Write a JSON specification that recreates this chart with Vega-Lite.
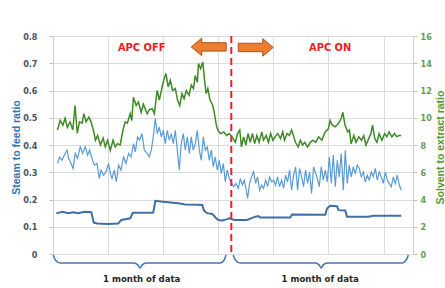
{
"$schema": "https://vega.github.io/schema/vega-lite/v6.json",
"width": 360, "height": 218,
"autosize": {"type": "none"},
"padding": {"left": 53, "top": 36, "right": 32, "bottom": 34},
"background": "white",
"config": {"view": {"stroke": null}, "font": "Liberation Sans Narrow, DejaVu Sans Condensed, Roboto"},
"datasets": {
"light": [
{"d":0.83,"v":0.332},{"d":1.2,"v":0.356},{"d":1.63,"v":0.344},{"d":2.05,"v":0.363},{"d":2.54,"v":0.381},{"d":2.83,"v":0.351},{"d":3.27,"v":0.332},{"d":3.63,"v":0.314},{"d":4.05,"v":0.369},{"d":4.46,"v":0.351},{"d":4.95,"v":0.393},{"d":5.37,"v":0.369},{"d":5.86,"v":0.393},{"d":6.28,"v":0.363},{"d":6.64,"v":0.381},{"d":7.08,"v":0.351},{"d":7.5,"v":0.326},{"d":7.99,"v":0.332},{"d":8.4,"v":0.277},{"d":8.71,"v":0.308},{"d":9.18,"v":0.289},{"d":9.62,"v":0.302},{"d":10.09,"v":0.332},{"d":10.4,"v":0.296},{"d":10.71,"v":0.277},{"d":11.13,"v":0.308},{"d":11.49,"v":0.265},{"d":11.91,"v":0.326},{"d":12.34,"v":0.308},{"d":12.81,"v":0.356},{"d":13.25,"v":0.332},{"d":13.72,"v":0.369},{"d":14.16,"v":0.356},{"d":14.63,"v":0.405},{"d":14.94,"v":0.375},{"d":15.35,"v":0.43},{"d":15.72,"v":0.418},{"d":16.15,"v":0.442},{"d":16.57,"v":0.381},{"d":17.06,"v":0.37},{"d":17.48,"v":0.356},{"d":17.84,"v":0.381},{"d":18.2,"v":0.43},{"d":18.57,"v":0.497},{"d":18.93,"v":0.442},{"d":19.29,"v":0.466},{"d":19.66,"v":0.43},{"d":20.02,"v":0.454},{"d":20.38,"v":0.405},{"d":20.74,"v":0.454},{"d":21.11,"v":0.418},{"d":21.47,"v":0.442},{"d":21.83,"v":0.405},{"d":22.2,"v":0.454},{"d":22.56,"v":0.381},{"d":22.92,"v":0.308},{"d":23.28,"v":0.405},{"d":23.65,"v":0.442},{"d":24.01,"v":0.381},{"d":24.37,"v":0.43},{"d":24.74,"v":0.369},{"d":25.1,"v":0.43},{"d":25.46,"v":0.381},{"d":25.83,"v":0.405},{"d":26.19,"v":0.454},{"d":26.55,"v":0.381},{"d":26.91,"v":0.344},{"d":27.28,"v":0.43},{"d":27.64,"v":0.381},{"d":28.0,"v":0.393},{"d":28.37,"v":0.344},{"d":28.73,"v":0.381},{"d":29.09,"v":0.32},{"d":29.45,"v":0.356},{"d":29.82,"v":0.308},{"d":30.18,"v":0.344},{"d":30.54,"v":0.296},{"d":30.91,"v":0.332},{"d":31.27,"v":0.265},{"d":31.63,"v":0.308},{"d":32.0,"v":0.277},
{"d":32.78,"v":0.247},{"d":33.21,"v":0.259},{"d":33.63,"v":0.241},{"d":33.99,"v":0.277},{"d":34.36,"v":0.253},{"d":34.72,"v":0.271},{"d":35.08,"v":0.234},{"d":35.32,"v":0.204},{"d":35.68,"v":0.259},{"d":36.04,"v":0.283},{"d":36.41,"v":0.301},{"d":36.77,"v":0.259},{"d":37.13,"v":0.283},{"d":37.5,"v":0.234},{"d":37.86,"v":0.253},{"d":38.22,"v":0.241},{"d":38.58,"v":0.271},{"d":38.95,"v":0.247},{"d":39.31,"v":0.283},{"d":39.67,"v":0.265},{"d":40.04,"v":0.271},{"d":40.4,"v":0.253},{"d":40.76,"v":0.283},{"d":41.12,"v":0.247},{"d":41.49,"v":0.271},{"d":41.85,"v":0.241},{"d":42.21,"v":0.289},{"d":42.58,"v":0.265},{"d":42.94,"v":0.308},{"d":43.3,"v":0.234},{"d":43.67,"v":0.289},{"d":44.03,"v":0.32},{"d":44.39,"v":0.234},{"d":44.75,"v":0.314},{"d":45.12,"v":0.283},{"d":45.48,"v":0.247},{"d":45.84,"v":0.308},{"d":46.21,"v":0.259},{"d":46.57,"v":0.301},{"d":46.93,"v":0.222},{"d":47.3,"v":0.32},{"d":47.66,"v":0.296},{"d":47.91,"v":0.283},{"d":48.33,"v":0.247},{"d":48.69,"v":0.32},{"d":49.06,"v":0.271},{"d":49.42,"v":0.308},{"d":49.78,"v":0.265},{"d":50.15,"v":0.356},{"d":50.51,"v":0.259},{"d":50.87,"v":0.363},{"d":51.23,"v":0.247},{"d":51.6,"v":0.344},{"d":51.96,"v":0.283},{"d":52.32,"v":0.369},{"d":52.69,"v":0.234},{"d":53.05,"v":0.381},{"d":53.41,"v":0.259},{"d":53.77,"v":0.326},{"d":54.14,"v":0.283},{"d":54.5,"v":0.32},{"d":54.86,"v":0.296},{"d":55.23,"v":0.326},{"d":55.59,"v":0.314},{"d":55.95,"v":0.283},{"d":56.32,"v":0.301},{"d":56.68,"v":0.265},{"d":57.04,"v":0.289},{"d":57.4,"v":0.271},{"d":57.77,"v":0.301},{"d":58.13,"v":0.283},{"d":58.49,"v":0.314},{"d":58.86,"v":0.271},{"d":59.22,"v":0.301},{"d":59.58,"v":0.283},{"d":59.95,"v":0.259},{"d":60.31,"v":0.301},{"d":60.67,"v":0.271},{"d":61.03,"v":0.259},{"d":61.4,"v":0.247},{"d":61.76,"v":0.283},{"d":62.12,"v":0.259},{"d":62.49,"v":0.289},{"d":62.85,"v":0.253},{"d":63.21,"v":0.234}
],
"dark": [
{"d":0.6,"v":0.149},{"d":1.69,"v":0.155},{"d":2.78,"v":0.15},{"d":3.68,"v":0.153},{"d":4.59,"v":0.15},{"d":5.68,"v":0.155},{"d":6.95,"v":0.153},{"d":7.4,"v":0.115},{"d":8.04,"v":0.112},{"d":9.85,"v":0.11},{"d":11.85,"v":0.112},{"d":12.4,"v":0.125},{"d":14.03,"v":0.131},{"d":14.48,"v":0.151},{"d":17.66,"v":0.151},{"d":18.2,"v":0.152},{"d":18.57,"v":0.195},{"d":19.47,"v":0.193},{"d":20.38,"v":0.191},{"d":22.74,"v":0.186},{"d":24.01,"v":0.182},{"d":26.19,"v":0.181},{"d":27.1,"v":0.18},{"d":27.37,"v":0.161},{"d":27.64,"v":0.155},{"d":28.0,"v":0.15},{"d":28.91,"v":0.147},{"d":29.45,"v":0.135},{"d":30.0,"v":0.125},{"d":30.73,"v":0.123},{"d":31.45,"v":0.127},{"d":32.0,"v":0.131},{"d":32.9,"v":0.125},{"d":35.21,"v":0.125},{"d":35.81,"v":0.13},{"d":36.72,"v":0.137},{"d":37.26,"v":0.139},{"d":37.62,"v":0.134},{"d":43.07,"v":0.134},{"d":43.38,"v":0.145},{"d":49.42,"v":0.144},{"d":49.73,"v":0.167},{"d":50.33,"v":0.177},{"d":51.54,"v":0.175},{"d":51.83,"v":0.161},{"d":53.05,"v":0.16},{"d":53.36,"v":0.137},{"d":57.22,"v":0.137},{"d":58.13,"v":0.14},{"d":63.21,"v":0.14}
],
"solvent": [
{"d":0.8,"v":9.1},{"d":1.3,"v":9.8},{"d":1.8,"v":9.45},{"d":2.2,"v":9.96},{"d":2.6,"v":9.3},{"d":3.1,"v":9.7},{"d":3.6,"v":9.1},{"d":4.0,"v":10.9},{"d":4.4,"v":8.86},{"d":4.8,"v":9.7},{"d":5.3,"v":9.6},{"d":5.6,"v":10.3},{"d":6.0,"v":9.7},{"d":6.5,"v":10.05},{"d":6.9,"v":9.7},{"d":7.4,"v":8.96},{"d":7.7,"v":8.35},{"d":8.1,"v":8.7},{"d":8.6,"v":8.0},{"d":9.1,"v":8.5},{"d":9.5,"v":7.86},{"d":9.9,"v":8.35},{"d":10.4,"v":7.6},{"d":10.9,"v":8.35},{"d":11.3,"v":7.86},{"d":11.7,"v":8.1},{"d":12.2,"v":8.0},{"d":12.7,"v":9.1},{"d":13.1,"v":9.7},{"d":13.5,"v":9.6},{"d":14.0,"v":10.3},{"d":14.3,"v":9.8},{"d":14.6,"v":11.5},{"d":15.1,"v":10.9},{"d":15.5,"v":11.15},{"d":16.0,"v":10.4},{"d":16.4,"v":11.0},{"d":17.1,"v":10.3},{"d":17.5,"v":10.6},{"d":18.0,"v":10.67},{"d":18.4,"v":10.3},{"d":18.9,"v":12.0},{"d":19.3,"v":11.3},{"d":19.8,"v":12.26},{"d":20.1,"v":12.75},{"d":20.5,"v":13.24},{"d":20.9,"v":12.26},{"d":21.3,"v":12.75},{"d":21.7,"v":12.0},{"d":22.2,"v":12.14},{"d":22.6,"v":11.3},{"d":23.0,"v":10.9},{"d":23.4,"v":11.77},{"d":23.8,"v":11.4},{"d":24.2,"v":12.0},{"d":24.7,"v":11.65},{"d":25.1,"v":12.4},{"d":25.5,"v":12.14},{"d":25.8,"v":13.1},{"d":26.2,"v":12.6},{"d":26.4,"v":13.97},{"d":26.8,"v":13.6},{"d":27.2,"v":14.09},{"d":27.5,"v":12.75},{"d":27.8,"v":11.77},{"d":28.1,"v":12.14},{"d":28.5,"v":11.3},{"d":29.0,"v":10.9},{"d":29.3,"v":10.3},{"d":29.7,"v":9.33},{"d":30.1,"v":8.96},{"d":30.5,"v":8.84},{"d":31.0,"v":8.96},{"d":31.5,"v":8.7},{"d":32.0,"v":8.84},{"d":32.5,"v":8.6},{"d":33.1,"v":8.2},{"d":33.5,"v":8.84},{"d":33.9,"v":9.1},{"d":34.2,"v":7.86},{"d":34.6,"v":8.6},{"d":35.0,"v":8.0},{"d":35.4,"v":8.84},{"d":35.8,"v":8.2},{"d":36.2,"v":8.84},{"d":36.6,"v":8.1},{"d":37.0,"v":8.7},{"d":37.4,"v":8.2},{"d":37.9,"v":8.96},{"d":38.2,"v":8.35},{"d":38.7,"v":8.7},{"d":39.1,"v":8.2},{"d":39.5,"v":8.84},{"d":39.9,"v":8.35},{"d":40.3,"v":8.6},{"d":40.8,"v":8.84},{"d":41.3,"v":8.47},{"d":41.7,"v":8.96},{"d":42.0,"v":8.35},{"d":42.5,"v":8.84},{"d":42.9,"v":8.7},{"d":43.3,"v":9.1},{"d":43.7,"v":8.6},{"d":44.0,"v":8.2},{"d":44.5,"v":7.86},{"d":44.9,"v":8.35},{"d":45.3,"v":8.0},{"d":45.7,"v":8.2},{"d":46.2,"v":7.86},{"d":46.7,"v":8.2},{"d":47.2,"v":8.35},{"d":47.7,"v":8.2},{"d":48.2,"v":8.6},{"d":48.8,"v":8.35},{"d":49.4,"v":8.96},{"d":50.0,"v":9.2},{"d":50.3,"v":9.8},{"d":50.7,"v":9.45},{"d":51.2,"v":9.33},{"d":51.8,"v":9.57},{"d":52.3,"v":9.94},{"d":52.6,"v":10.4},{"d":53.0,"v":9.45},{"d":53.5,"v":8.96},{"d":53.8,"v":9.1},{"d":54.1,"v":8.1},{"d":54.6,"v":8.7},{"d":55.0,"v":8.2},{"d":55.5,"v":8.6},{"d":56.0,"v":8.35},{"d":56.4,"v":8.7},{"d":56.8,"v":8.0},{"d":57.3,"v":8.47},{"d":57.7,"v":8.84},{"d":58.0,"v":9.45},{"d":58.4,"v":8.47},{"d":58.8,"v":8.2},{"d":59.2,"v":8.84},{"d":59.7,"v":8.35},{"d":60.2,"v":8.84},{"d":60.6,"v":8.6},{"d":61.0,"v":8.96},{"d":61.5,"v":8.6},{"d":62.0,"v":8.84},{"d":62.4,"v":8.6},{"d":62.8,"v":8.7},{"d":63.2,"v":8.7}
],
"divider": [{"d":32.36}],
"arrows": [{"d":28.26,"v":0.76,"dir":"left"},{"d":36.8,"v":0.758,"dir":"right"}],
"phase": [{"d":16.1,"v":0.755,"t":"APC OFF"},{"d":50.3,"v":0.755,"t":"APC ON"}],
"braces": [
{"b":"L","d":0.05,"v":-0.004},{"b":"L","d":0.42,"v":-0.022},{"b":"L","d":1.32,"v":-0.033},{"b":"L","d":14.7,"v":-0.033},{"b":"L","d":15.4,"v":-0.04},{"b":"L","d":15.8,"v":-0.051},{"b":"L","d":16.2,"v":-0.04},{"b":"L","d":16.9,"v":-0.033},{"b":"L","d":30.36,"v":-0.033},{"b":"L","d":31.07,"v":-0.022},{"b":"L","d":31.4,"v":-0.004},
{"b":"R","d":32.72,"v":-0.004},{"b":"R","d":33.09,"v":-0.022},{"b":"R","d":34.0,"v":-0.033},{"b":"R","d":47.6,"v":-0.033},{"b":"R","d":48.3,"v":-0.04},{"b":"R","d":48.7,"v":-0.051},{"b":"R","d":49.05,"v":-0.04},{"b":"R","d":49.8,"v":-0.033},{"b":"R","d":63.4,"v":-0.033},{"b":"R","d":64.1,"v":-0.022},{"b":"R","d":64.5,"v":-0.004}
],
"months": [{"d":16.1,"v":-0.092,"t":"1 month of data"},{"d":48.5,"v":-0.092,"t":"1 month of data"}]
},
"encoding": {
"x": {"field": "d", "type": "quantitative", "scale": {"domain": [0, 65.34], "nice": false}, "axis": {"values": [0,10,20,30,40,50,60], "grid": true, "gridColor": "#dcdcdc", "labels": false, "ticks": false, "domain": false, "title": null}}
},
"layer": [
{
"encoding": {
"y": {"field": "v", "type": "quantitative", "scale": {"domain": [0, 0.8], "nice": false}, "axis": {"values": [0,0.1,0.2,0.3,0.4,0.5,0.6,0.7,0.8], "labelExpr": "datum.value == 0 ? '0' : format(datum.value, '.1f')", "grid": true, "gridColor": "#dcdcdc", "domainColor": "#d0d0d0", "tickColor": "#bfbfbf", "tickSize": 4, "labelPadding": 12, "labelFontSize": 9, "labelFontWeight": "bold", "labelColor": "#44546a", "title": "Steam to feed ratio", "titleColor": "#2f75b5", "titleFontSize": 10.5, "titleFontWeight": "bold", "titleFont": "Liberation Sans, Roboto", "titleX": -37, "titleY": 111, "titleBaseline": "middle", "titleAngle": 270}}
},
"layer": [
{"data": {"name": "light"}, "mark": {"type": "line", "color": "#5b9bd5", "strokeWidth": 1.2}},
{"data": {"name": "dark"}, "mark": {"type": "line", "color": "#3f6fa3", "strokeWidth": 2}},
{
"data": {"name": "arrows"},
"mark": {"type": "point", "filled": true, "size": 1225, "fill": "#ed7d31", "stroke": "#a9561c", "strokeWidth": 1, "opacity": 1},
"encoding": {
"shape": {"field": "dir", "type": "nominal", "legend": null, "scale": {"domain": ["left", "right"], "range": ["M -1 0 L -0.4 -0.5 L -0.4 -0.24 L 1 -0.24 L 1 0.24 L -0.4 0.24 L -0.4 0.5 Z", "M 1 0 L 0.4 -0.5 L 0.4 -0.24 L -1 -0.24 L -1 0.24 L 0.4 0.24 L 0.4 0.5 Z"]}}
}
},
{
"data": {"name": "phase"},
"mark": {"type": "text", "color": "#ee1c25", "fontSize": 11, "fontWeight": "bold", "align": "center", "baseline": "middle"},
"encoding": {"text": {"field": "t"}}
},
{
"data": {"name": "braces"},
"mark": {"type": "line", "color": "#4677b0", "strokeWidth": 1.5, "interpolate": "monotone"},
"encoding": {"detail": {"field": "b"}}
},
{
"data": {"name": "months"},
"mark": {"type": "text", "color": "#262626", "fontSize": 9.5, "fontWeight": "bold", "align": "center", "baseline": "middle"},
"encoding": {"text": {"field": "t"}}
}
]
},
{
"data": {"name": "divider"},
"mark": {"type": "rule", "color": "#ee2024", "strokeWidth": 2, "strokeDash": [7, 4]}
},
{
"data": {"name": "solvent"},
"mark": {"type": "line", "color": "#3e8a26", "strokeWidth": 1.5},
"encoding": {
"y": {"field": "v", "type": "quantitative", "scale": {"domain": [0, 16], "nice": false}, "axis": {"orient": "right", "values": [0,2,4,6,8,10,12,14,16], "grid": false, "domainColor": "#d0d0d0", "tickColor": "#bfbfbf", "tickSize": 4, "labelPadding": 3, "labelFontSize": 9, "labelFontWeight": "bold", "labelColor": "#6a9a4c", "title": "Solvent to extract ratio", "titleColor": "#4f9a34", "titleFontSize": 10.5, "titleFontWeight": "bold", "titleFont": "Liberation Sans, Roboto", "titleX": 27, "titleY": 111, "titleBaseline": "middle", "titleAngle": 270}}
}
}
],
"resolve": {"scale": {"y": "independent"}}
}
